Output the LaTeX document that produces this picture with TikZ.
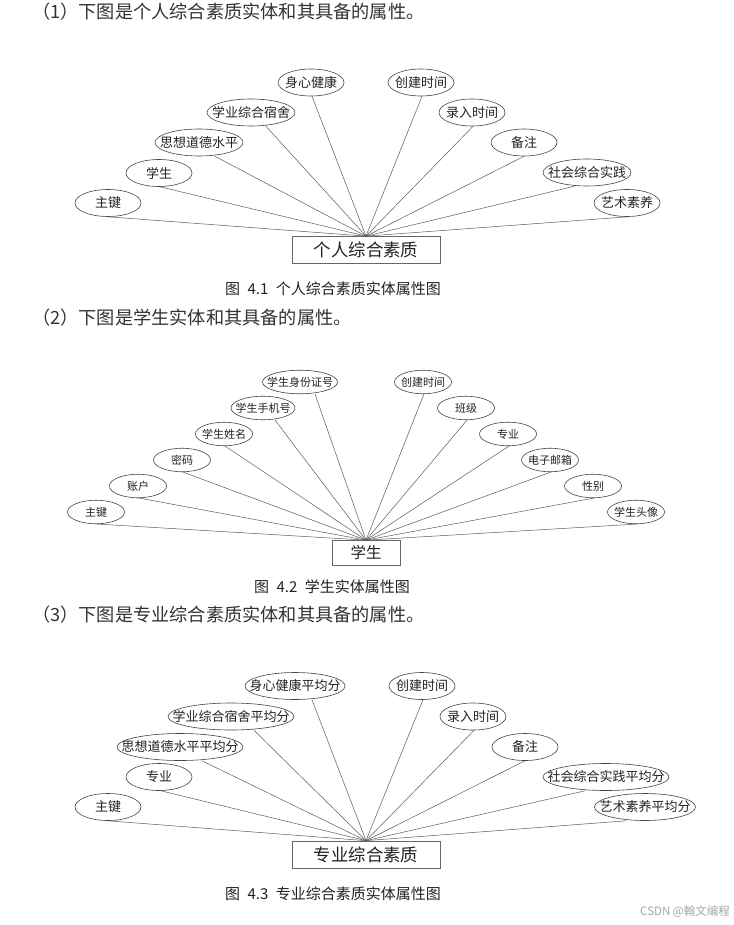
\documentclass[tikz,border=0pt]{standalone}
\usepackage{fontspec}
\setmainfont{Noto Sans CJK SC}
\usetikzlibrary{shapes.geometric}
\definecolor{txt}{HTML}{222222}
\definecolor{ttl}{HTML}{333333}
\definecolor{lnc}{HTML}{5A5A5A}
\definecolor{elc}{HTML}{444444}
\begin{document}
\begin{tikzpicture}[x=1pt,y=-1pt,
  lblA/.style={inner sep=0pt,text=txt,font=\fontsize{13}{15}\selectfont},
  lblB/.style={inner sep=0pt,text=txt,font=\fontsize{11}{13}\selectfont},
  attrA/.style={ellipse,draw=elc,line width=0.6pt,inner sep=0pt,minimum height=27pt,minimum width=66pt,label={[lblA]center:#1}},
  attrB/.style={ellipse,draw=elc,line width=0.6pt,inner sep=0pt,minimum height=23.5pt,minimum width=57pt,label={[lblB]center:#1}},
  entbox/.style={rectangle,draw=black!60,line width=0.7pt,inner sep=0pt,text=txt,font=\fontsize{17.4}{20}\selectfont},
  link/.style={draw=lnc,line width=0.5pt},
  titletext/.style={anchor=west,inner sep=0pt,text=ttl,font=\fontsize{18.2}{21}\selectfont},
  captext/.style={inner sep=0pt,text=txt,font=\fontsize{15}{17}\selectfont}
]
\useasboundingbox[fill=white] (0,0) rectangle (733,925);

% ---------------- Diagram 1 ----------------
\node[titletext] (t1) at (32,12) {（1）下图是个人综合素质实体和其具备的属性。};
\node[entbox,minimum width=148pt,minimum height=27pt] (e1) at (366,250) {个人综合素质};
\node[attrA=主键] (a1) at (108,203) {};
\node[attrA=学生] (a2) at (159,173) {};
\node[attrA=思想道德水平,minimum width=88pt] (a3) at (199,142.5) {};
\node[attrA=学业综合宿舍,minimum width=88pt] (a4) at (251,112.5) {};
\node[attrA=身心健康] (a5) at (311,82.5) {};
\node[attrA=创建时间] (a6) at (421,82.5) {};
\node[attrA=录入时间] (a7) at (472,112.5) {};
\node[attrA=备注] (a8) at (524,142.5) {};
\node[attrA=社会综合实践,minimum width=88pt] (a9) at (587,172.5) {};
\node[attrA=艺术素养] (a10) at (627,203) {};
\foreach \n/\dx in {a1/0,a2/1,a3/16,a4/15,a5/1,a6/1,a7/1,a8/0,a9/-13,a10/1}
  \draw[link] ([xshift=\dx pt]\n.south) -- (e1.north);
\node[captext] (c1) at (333,289) {图\hspace{0.5em}4.1\hspace{0.5em}个人综合素质实体属性图};

% ---------------- Diagram 2 ----------------
\node[titletext] (t2) at (32,318) {（2）下图是学生实体和其具备的属性。};
\node[entbox,minimum width=68pt,minimum height=25pt,font=\fontsize{15.5}{18}\selectfont] (e2) at (366,553) {学生};
\node[attrB=学生身份证号,minimum width=75pt] (b1) at (300,382) {};
\node[attrB=创建时间] (b2) at (423,382) {};
\node[attrB=学生手机号,minimum width=64pt] (b3) at (263,408) {};
\node[attrB=班级] (b4) at (466,408) {};
\node[attrB=学生姓名] (b5) at (224,434) {};
\node[attrB=专业] (b6) at (508,434) {};
\node[attrB=密码] (b7) at (182,460) {};
\node[attrB=电子邮箱] (b8) at (550,460) {};
\node[attrB=账户] (b9) at (138,486) {};
\node[attrB=性别] (b10) at (593,486) {};
\node[attrB=主键] (b11) at (96,512) {};
\node[attrB=学生头像] (b12) at (636,512) {};
\foreach \n/\dx in {b1/15,b2/1,b3/12,b4/1,b5/1,b6/1,b7/1,b8/1,b9/1,b10/1,b11/1,b12/1}
  \draw[link] ([xshift=\dx pt]\n.south) -- (e2.north);
\node[captext] (c2) at (332,587) {图\hspace{0.5em}4.2\hspace{0.5em}学生实体属性图};

% ---------------- Diagram 3 ----------------
\node[titletext] (t3) at (32,615) {（3）下图是专业综合素质实体和其具备的属性。};
\node[entbox,minimum width=148pt,minimum height=27pt] (e3) at (366,854.5) {专业综合素质};
\node[attrA=身心健康平均分,minimum width=100pt] (d1) at (295,686) {};
\node[attrA=创建时间] (d2) at (422,686) {};
\node[attrA=学业综合宿舍平均分,minimum width=126pt] (d3) at (231,716.5) {};
\node[attrA=录入时间] (d4) at (473,716.5) {};
\node[attrA=思想道德水平平均分,minimum width=126pt] (d5) at (180,747) {};
\node[attrA=备注] (d6) at (525,747) {};
\node[attrA=专业] (d7) at (159,777) {};
\node[attrA=社会综合实践平均分,minimum width=126pt] (d8) at (606,777) {};
\node[attrA=主键] (d9) at (108,807) {};
\node[attrA=艺术素养平均分,minimum width=101pt] (d10) at (645,807) {};
\foreach \n/\dx in {d1/17,d2/1,d3/23,d4/1,d5/22,d6/0,d7/2,d8/-21,d9/0,d10/-19}
  \draw[link] ([xshift=\dx pt]\n.south) -- (e3.north);
\node[captext] (c3) at (333,894) {图\hspace{0.5em}4.3\hspace{0.5em}专业综合素质实体属性图};

\node[anchor=east,inner sep=0pt,text=black!35,font=\fontsize{11.5}{13}\selectfont] (wm) at (730,912) {CSDN @翰文编程};
\end{tikzpicture}
\end{document}
